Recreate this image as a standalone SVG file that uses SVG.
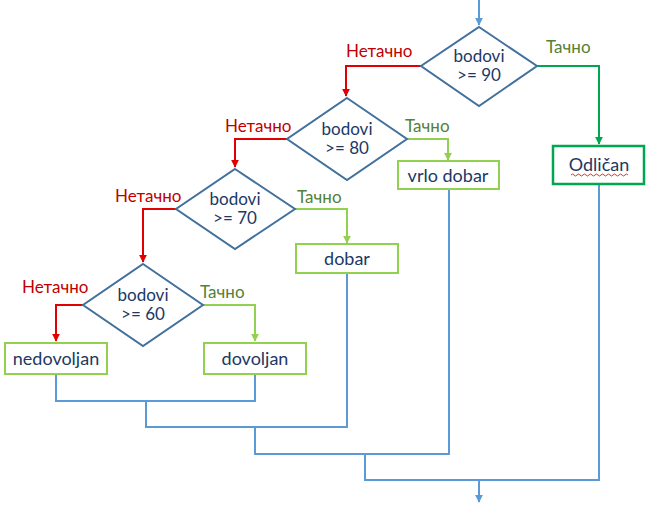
<svg xmlns="http://www.w3.org/2000/svg" width="648" height="505" viewBox="0 0 648 505">
<defs>
<style>
.dia{fill:#fff;stroke:#41719C;stroke-width:2}
.box{fill:#fff;stroke:#92D050;stroke-width:2}
.boxd{fill:#fff;stroke:#00A650;stroke-width:2.5}
.t{font-family:Lato,"Liberation Sans",sans-serif;font-size:17px;fill:#203864;text-anchor:middle}
.bt{font-family:Lato,"Liberation Sans",sans-serif;font-size:18px;fill:#203864;text-anchor:middle}
.no{font-family:Lato,"Liberation Sans",sans-serif;font-size:17px;fill:#C00000}
.yes{font-family:Lato,"Liberation Sans",sans-serif;font-size:17px;fill:#538135}
.red{fill:none;stroke:#E00000;stroke-width:2}
.grn{fill:none;stroke:#92D050;stroke-width:2}
.dgrn{fill:none;stroke:#00A650;stroke-width:2}
.blue{fill:none;stroke:#5B9BD5;stroke-width:2}
</style>
<marker id="ar" viewBox="0 0 10 10" refX="9" refY="5" markerWidth="4" markerHeight="4" orient="auto"><path d="M0,0L10,5L0,10z" fill="#E00000"/></marker>
<marker id="ag" viewBox="0 0 10 10" refX="9" refY="5" markerWidth="4" markerHeight="4" orient="auto"><path d="M0,0L10,5L0,10z" fill="#92D050"/></marker>
<marker id="adg" viewBox="0 0 10 10" refX="9" refY="5" markerWidth="4" markerHeight="4" orient="auto"><path d="M0,0L10,5L0,10z" fill="#00A650"/></marker>
<marker id="ab" viewBox="0 0 10 10" refX="9" refY="5" markerWidth="4" markerHeight="4" orient="auto"><path d="M0,0L10,5L0,10z" fill="#5B9BD5"/></marker>
</defs>
<rect width="648" height="505" fill="#fff"/>
<g id="connectors">
<path class="blue" d="M479,0V25" marker-end="url(#ab)"/>
<path class="dgrn" d="M537,66H599V144" marker-end="url(#adg)"/>
<path class="red" d="M421,66H346V96" marker-end="url(#ar)"/>
<path class="grn" d="M407,139H448V160" marker-end="url(#ag)"/>
<path class="red" d="M287,139H235V167" marker-end="url(#ar)"/>
<path class="grn" d="M295,209H347V243" marker-end="url(#ag)"/>
<path class="red" d="M176,209H143V262" marker-end="url(#ar)"/>
<path class="red" d="M83,305H56V341" marker-end="url(#ar)"/>
<path class="grn" d="M203,305H255V341" marker-end="url(#ag)"/>
<path class="blue" d="M56,374V401H255V374"/>
<path class="blue" d="M146,401V427H347V273"/>
<path class="blue" d="M255,427V454H449V189"/>
<path class="blue" d="M365,454V480H599V184"/>
<path class="blue" d="M479,480V502" marker-end="url(#ab)"/>
<text class="no" x="346" y="57">Нетачно</text>
<text class="yes" x="546" y="53">Тачно</text>
<text class="no" x="225" y="132">Нетачно</text>
<text class="yes" x="405" y="132">Тачно</text>
<text class="no" x="115" y="202">Нетачно</text>
<text class="yes" x="297" y="203">Тачно</text>
<text class="no" x="22" y="293">Нетачно</text>
<text class="yes" x="200" y="298">Тачно</text>
</g>
<g id="d90"><path class="dia" d="M479,27L537,66L479,106L421,66Z"/><text class="t" x="479" y="62">bodovi</text><text class="t" x="479" y="81">&gt;= 90</text></g>
<g id="d80"><path class="dia" d="M347,98L407,139L347,180L287,139Z"/><text class="t" x="347" y="135">bodovi</text><text class="t" x="347" y="154">&gt;= 80</text></g>
<g id="d70"><path class="dia" d="M235,169L295,209L235,249L176,209Z"/><text class="t" x="235" y="205">bodovi</text><text class="t" x="235" y="224">&gt;= 70</text></g>
<g id="d60"><path class="dia" d="M143,264L203,305L143,346L83,305Z"/><text class="t" x="143" y="301">bodovi</text><text class="t" x="143" y="320">&gt;= 60</text></g>
<g id="odlican"><rect class="boxd" x="553" y="146" width="91" height="38"/><text class="bt" x="599" y="171">Odličan</text><path d="M571,175q1.5,-2 3,0t3,0t3,0t3,0t3,0t3,0t3,0t3,0t3,0t3,0t3,0t3,0t3,0t3,0t3,0t3,0t3,0t3,0t3,0" fill="none" stroke="#E03030" stroke-width="1"/></g>
<g id="vrlodobar"><rect class="box" x="398" y="161" width="101" height="28"/><text class="bt" x="448" y="182">vrlo dobar</text></g>
<g id="dobar"><rect class="box" x="296" y="244" width="102" height="29"/><text class="bt" x="347" y="265">dobar</text></g>
<g id="nedovoljan"><rect class="box" x="5" y="343" width="102" height="31"/><text class="bt" x="56" y="365">nedovoljan</text></g>
<g id="dovoljan"><rect class="box" x="204" y="343" width="102" height="31"/><text class="bt" x="255" y="365">dovoljan</text></g>
</svg>
